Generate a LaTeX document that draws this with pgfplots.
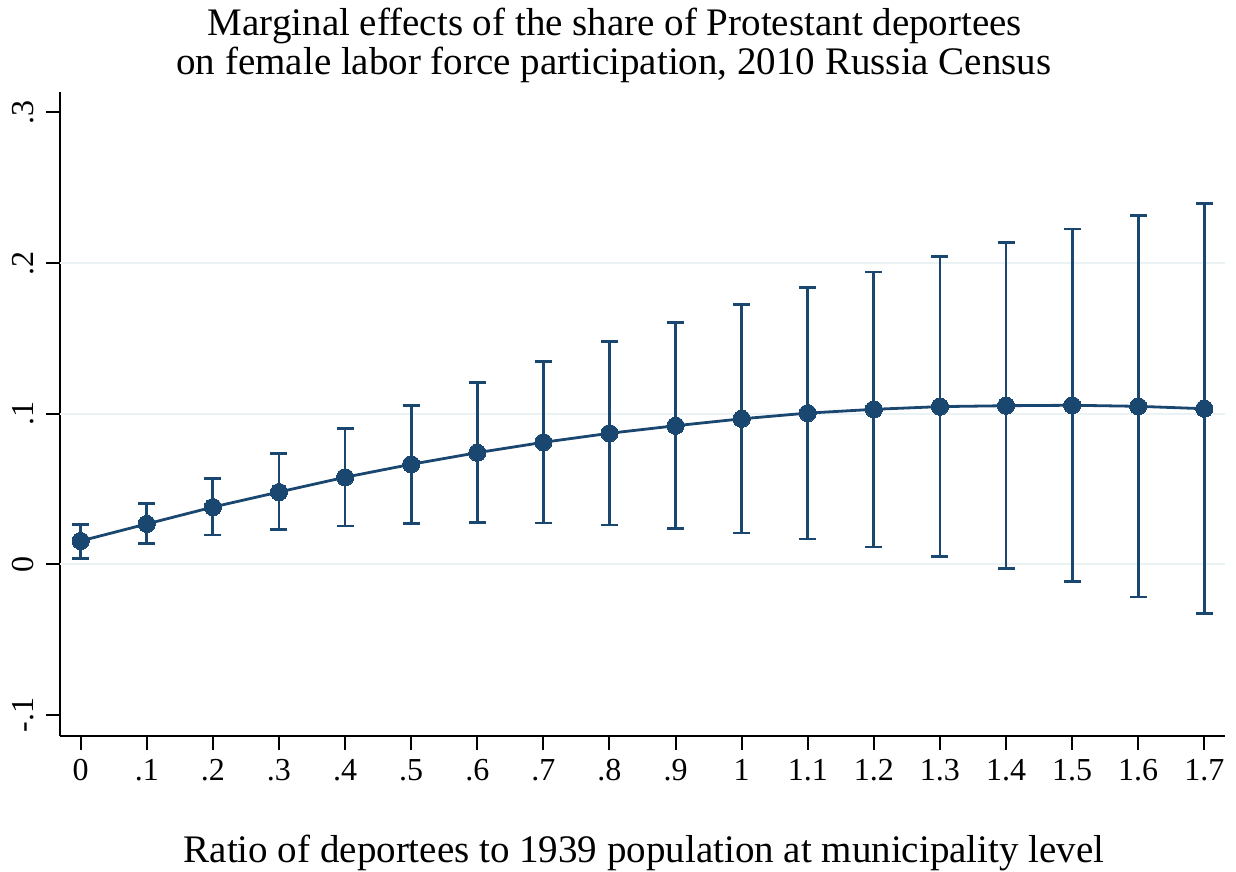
\documentclass[border=0pt]{standalone}
\usepackage{fontspec}
\setmainfont{Liberation Serif}
\usepackage{pgfplots}
\usepackage{pgfplotstable}
\pgfplotsset{compat=1.18}
\definecolor{stnavy}{RGB}{26,71,111}
\definecolor{stgrid}{RGB}{234,242,243}
\pgfplotstableread{
x y lo hi
0 0.0155 0.0037 0.0266
0.1 0.0268 0.0139 0.0405
0.2 0.0380 0.0194 0.0570
0.3 0.0480 0.0231 0.0738
0.4 0.0578 0.0254 0.0903
0.5 0.0664 0.0270 0.1056
0.6 0.0741 0.0276 0.1206
0.7 0.0810 0.0274 0.1345
0.8 0.0870 0.0261 0.1478
0.9 0.0920 0.0240 0.1605
1.0 0.0966 0.0208 0.1727
1.1 0.1004 0.0168 0.1837
1.2 0.1029 0.0115 0.1941
1.3 0.1047 0.0050 0.2043
1.4 0.1053 -0.0029 0.2138
1.5 0.1056 -0.0115 0.2226
1.6 0.1049 -0.0217 0.2315
1.7 0.1033 -0.0325 0.2397
}\datatable
\begin{document}
\begin{tikzpicture}
\useasboundingbox (0,0) rectangle (618pt,436pt);
\begin{axis}[
  at={(30pt,68pt)}, anchor=south west,
  scale only axis, width=582.5pt, height=322pt,
  xmin=-0.0313, xmax=1.7313, ymin=-0.114, ymax=0.3136,
  axis lines*=left, axis line style={line width=1pt, black, -},
  tick align=outside, major tick length=7pt,
  tick style={line width=1pt, black},
  xtick={0,0.1,0.2,0.3,0.4,0.5,0.6,0.7,0.8,0.9,1,1.1,1.2,1.3,1.4,1.5,1.6,1.7},
  xticklabels={0,.1,.2,.3,.4,.5,.6,.7,.8,.9,1,1.1,1.2,1.3,1.4,1.5,1.6,1.7},
  ytick={-0.1,0,0.1,0.2,0.3},
  yticklabels={-.1,0,.1,.2,.3},
  extra y ticks={0,0.1,0.2},
  extra y tick labels={},
  extra y tick style={ymajorgrids=true, major tick length=0pt, tick style={draw=none}},
  major grid style={line width=1pt, stgrid},
  ticklabel style={font=\fontsize{16}{18}\selectfont},
  /pgf/number format/assume math mode=true,
  yticklabel style={rotate=90, anchor=south, inner sep=6pt},
  xticklabel style={anchor=north, yshift=-1pt},
  clip=false,
]
\addplot[stnavy, line width=1.4pt, mark=*, mark size=4.3pt, mark options={fill=stnavy, draw=stnavy, line width=0pt},
  error bars/.cd, y dir=both, y explicit,
  error bar style={line width=1.4pt, stnavy},
  error mark options={line width=1.4pt, stnavy, mark size=4.25pt, rotate=90}]
  table[x=x, y=y, y error plus expr=\thisrow{hi}-\thisrow{y}, y error minus expr=\thisrow{y}-\thisrow{lo}] {\datatable};
\end{axis}
\node[anchor=base, font=\fontsize{19.5}{22}\selectfont] at (307.5pt,418pt) {Marginal effects of the share of Protestant deportees};
\node[anchor=base, font=\fontsize{19.5}{22}\selectfont] at (307pt,398.5pt) {on female labor force participation, 2010 Russia Census};
\node[anchor=base, font=\fontsize{19.5}{22}\selectfont] at (322pt,5pt) {Ratio of deportees to 1939 population at municipality level};
\end{tikzpicture}
\end{document}
